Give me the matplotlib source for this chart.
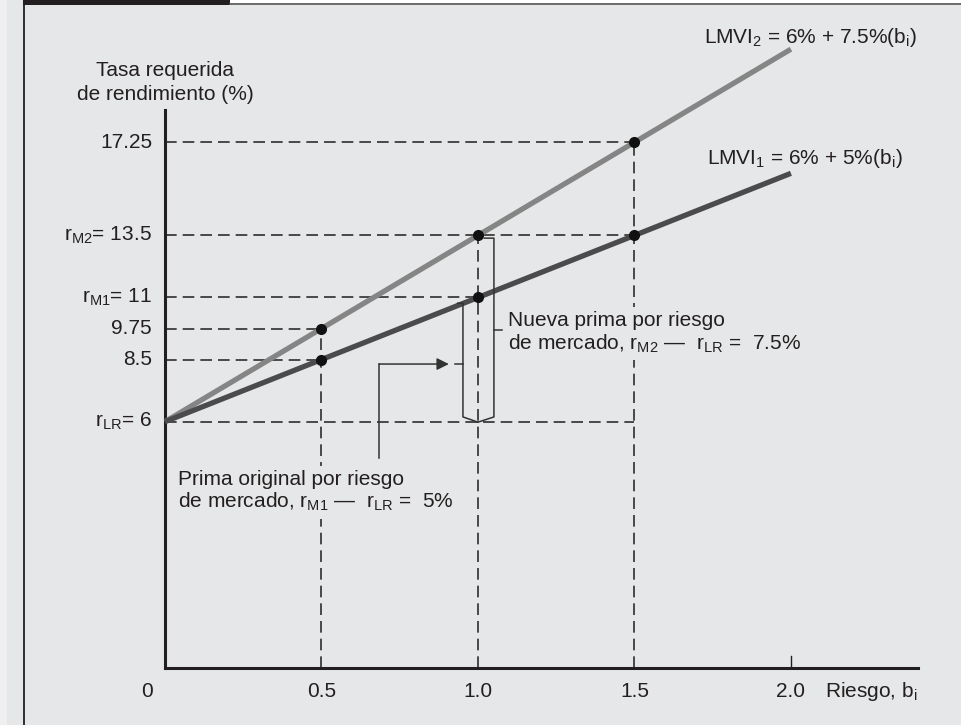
import matplotlib
matplotlib.use("Agg")
from matplotlib import pyplot as plt
from matplotlib.patches import Rectangle
from matplotlib.lines import Line2D

plt.rcParams['font.family'] = ['Liberation Sans', 'DejaVu Sans']
plt.rcParams['mathtext.fontset'] = 'custom'
plt.rcParams['mathtext.rm'] = 'Liberation Sans'
plt.rcParams['mathtext.it'] = 'Liberation Sans:italic'
plt.rcParams['mathtext.default'] = 'regular'

# data
line_b = [0, 2.0]
lmvi1_r = [6, 16]
lmvi2_r = [6, 21]
pts_b = [0.5, 1.0, 1.5]
lmvi1_pts = [8.5, 11, 13.5]
lmvi2_pts = [9.75, 13.5, 17.25]
x_ticks = [0.5, 1.0, 1.5, 2.0]
x_labels = ['0.5', '1.0', '1.5', '2.0']
y_ticks = [17.25, 13.5, 11, 9.75, 8.5, 6]
y_labels = ['17.25', r'r$_{M2}$= 13.5', r'r$_{M1}$= 11', '9.75', '8.5', r'r$_{LR}$= 6']
# horizontal guides: (value, until b)
h_guides = [(17.25, 1.5), (13.5, 1.5), (11, 1.0), (9.75, 0.5), (8.5, 0.5), (6, 1.5)]
# vertical guides: (b, from value)
v_guides = [(0.5, 9.75), (1.0, 13.5), (1.5, 17.25)]

BG = '#e6e7e8'
INK = '#231f20'
FS = 15

fig = plt.figure(figsize=(9.61, 7.25), dpi=100)
fig.patch.set_facecolor(BG)

def fx(px):
    return px / 961.0

def fy(py):
    return 1 - py / 725.0

# page decorations
fig.add_artist(Rectangle((0, 0), fx(7), 1, transform=fig.transFigure, facecolor='#efefef', edgecolor='none'))
fig.add_artist(Rectangle((fx(230), fy(3)), 1, 1, transform=fig.transFigure, facecolor='white', edgecolor='none'))
fig.add_artist(Line2D([fx(230), 1], [fy(3.5), fy(3.5)], transform=fig.transFigure, color='#555555', lw=1.2))
fig.add_artist(Rectangle((fx(23), fy(4.5)), fx(207), 1, transform=fig.transFigure, facecolor=INK, edgecolor='none'))
fig.add_artist(Line2D([fx(23.5), fx(23.5)], [0, 1], transform=fig.transFigure, color=INK, lw=1.3))

ax = fig.add_axes([fx(165), fy(668), fx(918 - 165), (668 - 110) / 725.0])
ax.set_facecolor(BG)
ax.set_xlim(0, 2.406)
ax.set_ylim(-3.92, 18.55)
for s in ['top', 'right']:
    ax.spines[s].set_visible(False)
for s in ['left', 'bottom']:
    ax.spines[s].set_linewidth(2.2)
    ax.spines[s].set_color(INK)
ax.set_xticks([])
ax.set_yticks([])

dash = (0, (7, 3.6))
for val, bmax in h_guides:
    ax.plot([0, bmax], [val, val], color='#2e2e2e', lw=1.2, linestyle=dash, zorder=1)
for b, val in v_guides:
    ax.plot([b, b], [-3.92, val], color='#2e2e2e', lw=1.2, linestyle=dash, zorder=1)
# tick at 2.0
ax.plot([2.0, 2.0], [-3.92, -3.44], color=INK, lw=1.0, clip_on=False)

ax.plot(line_b, lmvi2_r, color='#858585', lw=3.8, solid_capstyle='butt', zorder=3, clip_on=False)
ax.plot(line_b, lmvi1_r, color='#4b4b4d', lw=3.8, solid_capstyle='butt', zorder=3, clip_on=False)
ax.plot(pts_b, lmvi1_pts, 'o', color='#111111', ms=7, zorder=5)
ax.plot(pts_b, lmvi2_pts, 'o', color='#111111', ms=7, zorder=5)

# brackets
bc = '#333333'
ax.plot([0.935, 0.952, 0.952, 1.0], [10.77, 10.77, 6.19, 5.98], color=bc, lw=1.1, zorder=4)
ax.plot([0.927, 0.952], [8.32, 8.32], color=bc, lw=1.1, zorder=4)
ax.plot([1.02, 1.051, 1.051, 1.0], [13.39, 13.39, 6.19, 5.98], color=bc, lw=1.1, zorder=4)
ax.plot([1.051, 1.077], [9.69, 9.69], color=bc, lw=1.1, zorder=4)
# arrow
ax.plot([0.684, 0.684], [4.54, 8.32], color=bc, lw=1.1, zorder=4)
ax.annotate('', xy=(0.907, 8.32), xytext=(0.684, 8.32),
            arrowprops=dict(arrowstyle='-|>', color=bc, lw=1.1, mutation_scale=18, shrinkA=0, shrinkB=0))

# labels
for val, lab in zip(y_ticks, y_labels):
    ax.text(-0.0415, val, lab, ha='right', va='center', fontsize=FS, color=INK)
ax.text(-0.058, -5.08, '0', ha='center', va='baseline', fontsize=FS, color=INK)
for b, lab in zip(x_ticks, x_labels):
    ax.text(b, -5.08, lab, ha='center', va='baseline', fontsize=FS, color=INK)
ax.text(2.109, -5.08, r'Riesgo, b$_{i}$', ha='left', va='baseline', fontsize=FS, color=INK)

ax.text(0.0, 19.92, 'Tasa requerida', ha='center', va='baseline', fontsize=FS, color=INK)
ax.text(0.0, 18.95, 'de rendimiento (%)', ha='center', va='baseline', fontsize=FS, color=INK)

ax.text(1.722, 21.24, r'LMVI$_{2}$ = 6% + 7.5%(b$_{i}$)', ha='left', va='baseline', fontsize=FS, color=INK)
ax.text(1.731, 16.37, r'LMVI$_{1}$ = 6% + 5%(b$_{i}$)', ha='left', va='baseline', fontsize=FS, color=INK)

box = dict(facecolor=BG, edgecolor='none', boxstyle='square,pad=0.25')
ax.text(1.096, 8.89, 'Nueva prima por riesgo\n' + r'de mercado, r$_{M2}$ —  r$_{LR}$ =  7.5%',
        ha='left', va='baseline', fontsize=FS, color=INK, linespacing=1.15, bbox=box, zorder=10)
ax.text(0.042, 2.52, 'Prima original por riesgo\n' + r'de mercado, r$_{M1}$ —  r$_{LR}$ =  5%',
        ha='left', va='baseline', fontsize=FS, color=INK, linespacing=1.15, bbox=box, zorder=10)

fig.savefig('out.png', dpi=100, facecolor=fig.get_facecolor())
